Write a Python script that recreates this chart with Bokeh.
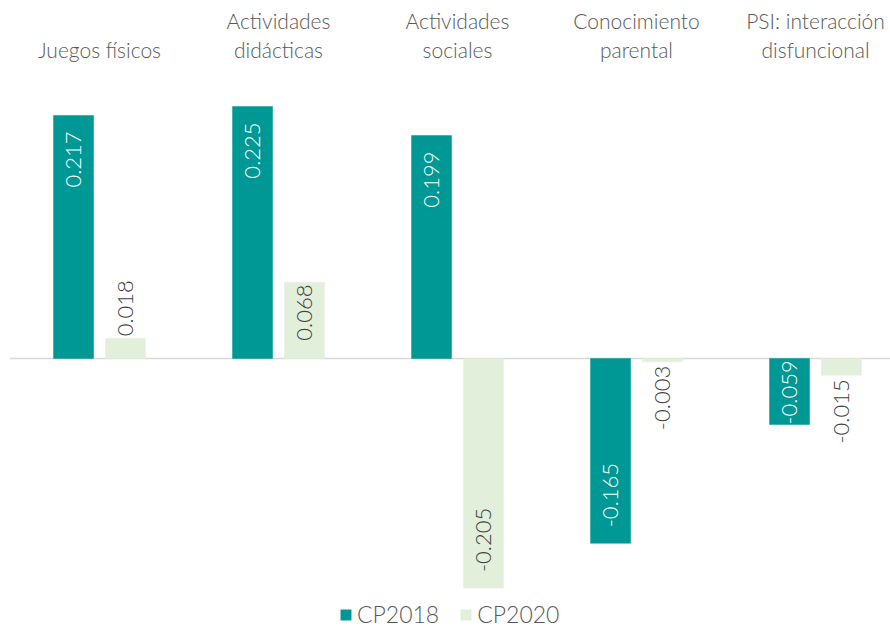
from bokeh.plotting import figure
from bokeh.models import ColumnDataSource, Range1d, Legend, LegendItem
from bokeh.core.properties import value
from bokeh.embed import file_html
from bokeh.resources import INLINE
import numpy as np

# ---- data ----
categories = ["Juegos físicos", "Actividades\ndidácticas", "Actividades\nsociales",
              "Conocimiento\nparental", "PSI: interacción\ndisfuncional"]
series_names = ["CP2018", "CP2020"]
cp2018 = [0.217, 0.225, 0.199, -0.165, -0.059]
cp2020 = [0.018, 0.068, -0.205, -0.003, -0.015]

# ---- style ----
W, H = 890, 628
TEAL = "#009894"
LIGHT = "#E2EFDA"
FONT_NAME = "Lato Light"
FONT = value(FONT_NAME)
Y0, Y1 = -0.2411, 0.3196
X0, X1 = -0.553, 4.419
BAR_W = 0.2235
OFF = 0.145

p = figure(width=W, height=H, output_backend="svg", toolbar_location=None,
           x_range=Range1d(X0, X1), y_range=Range1d(Y0, Y1),
           min_border=0, min_border_left=0, min_border_right=0,
           min_border_top=0, min_border_bottom=0)
p.axis.visible = False
p.grid.visible = False
p.outline_line_color = None
p.background_fill_color = "white"

idx = np.arange(len(categories))

# zero line
p.segment(x0=[-0.5], y0=[0], x1=[len(categories) - 0.5], y1=[0],
          line_color="#D9D9D9", line_width=1.5)

renderers = []
PX = H / (Y1 - Y0)
TEXT_LEN = 60
for vals, off, col, tcol in [(cp2018, -OFF, TEAL, "white"), (cp2020, OFF, LIGHT, "#404040")]:
    xs = idx + off
    src = ColumnDataSource(dict(x=xs, top=vals))
    r = p.vbar(x="x", top="top", bottom=0, width=BAR_W, source=src,
               fill_color=col, line_color=col, line_width=0.5)
    renderers.append(r)
    # labels
    aligns, yoffs, cols = [], [], []
    for v in vals:
        bar_px = abs(v) * PX
        pos = v >= 0
        if bar_px >= TEXT_LEN + 2:
            gap = min(16, max(0, bar_px - TEXT_LEN - 14))
            aligns.append("right" if pos else "left")
            yoffs.append(gap if pos else -gap)
            cols.append(tcol)
        else:
            aligns.append("left" if pos else "right")
            yoffs.append(-2 if pos else 4)
            cols.append("#404040")
    lsrc = ColumnDataSource(dict(x=xs, y=vals, t=[f"{v:.3f}" for v in vals],
                                 a=aligns, yo=yoffs, c=cols))
    p.text(x="x", y="y", text="t", source=lsrc, angle=np.pi / 2,
           text_align="a", text_baseline="middle", y_offset="yo",
           text_color="c", text_font=FONT, text_font_size="22px")

# category labels at top
csrc = ColumnDataSource(dict(x=idx, y=[Y1] * len(categories), t=categories))
p.text(x="x", y="y", text="t", source=csrc, text_align="center",
       text_baseline="bottom", y_offset=61, text_color="#595959",
       text_font=FONT, text_font_size="21px", text_line_height=1.15)

legend = Legend(items=[LegendItem(label=series_names[0], renderers=[renderers[0]]),
                       LegendItem(label=series_names[1], renderers=[renderers[1]])],
                orientation="horizontal", location=(339, 0),
                glyph_width=13, glyph_height=13, label_standoff=5, spacing=20,
                padding=0, margin=0, border_line_color=None, background_fill_alpha=0,
                label_text_font=FONT_NAME, label_text_font_size="23px",
                label_text_color="#595959", label_height=24)
p.add_layout(legend)

open("out.html", "w").write(file_html(p, INLINE))
